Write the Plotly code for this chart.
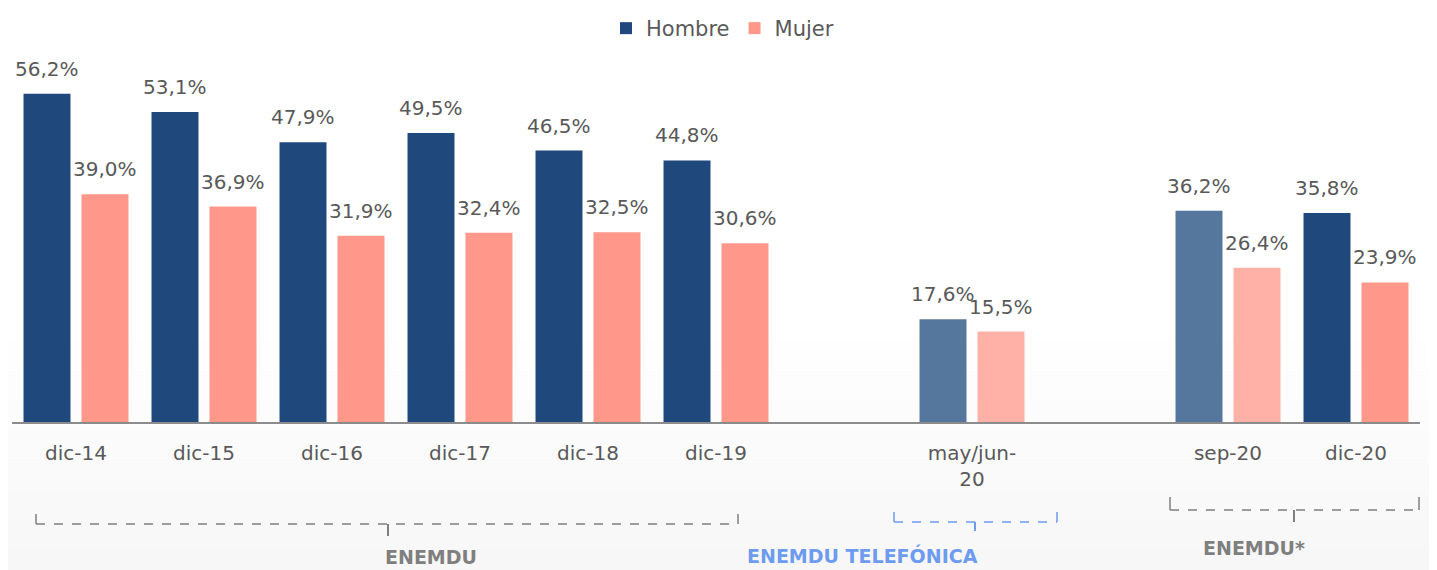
import plotly.graph_objects as go

# ---------------- data ----------------
categories = ["dic-14", "dic-15", "dic-16", "dic-17", "dic-18", "dic-19",
              " ", "may/jun-<br>20", "  ", "sep-20", "dic-20"]
hombre = [56.2, 53.1, 47.9, 49.5, 46.5, 44.8, None, 17.6, None, 36.2, 35.8]
mujer = [39.0, 36.9, 31.9, 32.4, 32.5, 30.6, None, 15.5, None, 26.4, 23.9]
series_names = ["Hombre", "Mujer"]

# survey groups (label, color)
groups = [("ENEMDU", "#7f7f7f"), ("ENEMDU TELEFÓNICA", "#6d9bef"), ("ENEMDU*", "#7f7f7f")]

# ---------------- styling ----------------
DARK_H, LIGHT_H = "#1f487c", "#56779d"
DARK_M, LIGHT_M = "#ff978a", "#ffb1a8"
light_idx = {7, 9}
h_colors = [LIGHT_H if i in light_idx else DARK_H for i in range(len(categories))]
m_colors = [LIGHT_M if i in light_idx else DARK_M for i in range(len(categories))]

FONT = "DejaVu Sans"
TXT = "#595959"

OFF = 8  # page body margin
SW, SH = 1437, 570  # screen size
W, H = SW - OFF, SH - OFF
# plot area in screen pixels
SL, SR, ST, SB = 12, 1420, 60, 422
L, R, T, B = SL - OFF, SR - OFF, ST - OFF, SB - OFF


def px_x(p):
    return (p - OFF - L) / (R - L)


def px_y(p):
    return (B - (p - OFF)) / (B - T)


fig = go.Figure()
fig.add_trace(go.Bar(name=series_names[0], x=categories, y=hombre,
                     marker=dict(color=h_colors, line=dict(width=0))))
fig.add_trace(go.Bar(name=series_names[1], x=categories, y=mujer,
                     marker=dict(color=m_colors, line=dict(width=0))))

annotations = []
for vals, shift in ((hombre, -29), (mujer, 29)):
    for c, v in zip(categories, vals):
        if v is None:
            continue
        annotations.append(dict(
            x=c, y=v, xref="x", yref="y", text=f"{v:.1f}%".replace(".", ","),
            showarrow=False, xshift=shift, yshift=25, yanchor="middle",
            font=dict(family=FONT, size=20, color=TXT)))

shapes = []
# faint background gradient at the bottom
for i in range(8):
    y0 = 340 + i * 30
    shapes.append(dict(type="rect", xref="paper", yref="paper", layer="below",
                       x0=px_x(0), x1=px_x(SW), y0=px_y(SH), y1=px_y(y0),
                       fillcolor="rgba(0,0,0,0.005)", line=dict(width=0)))

# brackets: (left, right, line_y, end_top, center_x, center_bottom, label_x, label_y)
bracket_geo = [
    (36, 738, 524, 514, 388, 536, 383, 557),
    (894, 1057, 522, 512, 975, 531, 980, 555),
    (1170, 1419, 510, 497, 1294, 522, 1307, 548),
]
for (name, col), (x0, x1, ly, et, cx, cb, lx, lyy) in zip(groups, bracket_geo):
    ln = dict(color=col, width=1.5, dash="dash")
    shapes.append(dict(type="line", xref="paper", yref="paper",
                       x0=px_x(x0), x1=px_x(x1), y0=px_y(ly), y1=px_y(ly), line=ln))
    for ex in (x0, x1):
        shapes.append(dict(type="line", xref="paper", yref="paper",
                           x0=px_x(ex), x1=px_x(ex), y0=px_y(et), y1=px_y(ly),
                           line=dict(color=col, width=1.5)))
    shapes.append(dict(type="line", xref="paper", yref="paper",
                       x0=px_x(cx), x1=px_x(cx), y0=px_y(ly), y1=px_y(cb),
                       line=dict(color=col, width=2)))
    annotations.append(dict(x=px_x(lx), y=px_y(lyy), xref="paper", yref="paper",
                            text=f"<b>{name}</b>", showarrow=False, yanchor="middle",
                            font=dict(family=FONT, size=19, color=col)))

fig.update_layout(
    width=W, height=H,
    margin=dict(l=L, r=W - R, t=T, b=H - B),
    paper_bgcolor="white", plot_bgcolor="rgba(0,0,0,0)",
    barmode="group", bargap=0.094, bargroupgap=0.19,
    font=dict(family=FONT, size=20, color=TXT),
    legend=dict(orientation="h", x=0.5, xanchor="center", xref="container",
                y=1, yref="container", yanchor="top",
                font=dict(family=FONT, size=21, color=TXT),
                itemwidth=30, bgcolor="rgba(0,0,0,0)"),
    xaxis=dict(type="category", showgrid=False, showline=True, linecolor="#8c8c8c",
               linewidth=2, ticks="", ticklabelstandoff=12,
               tickfont=dict(family=FONT, size=20, color=TXT), fixedrange=True),
    yaxis=dict(range=[0, 62], visible=False, fixedrange=True),
    annotations=annotations, shapes=shapes,
)

fig.write_html("out.html")
